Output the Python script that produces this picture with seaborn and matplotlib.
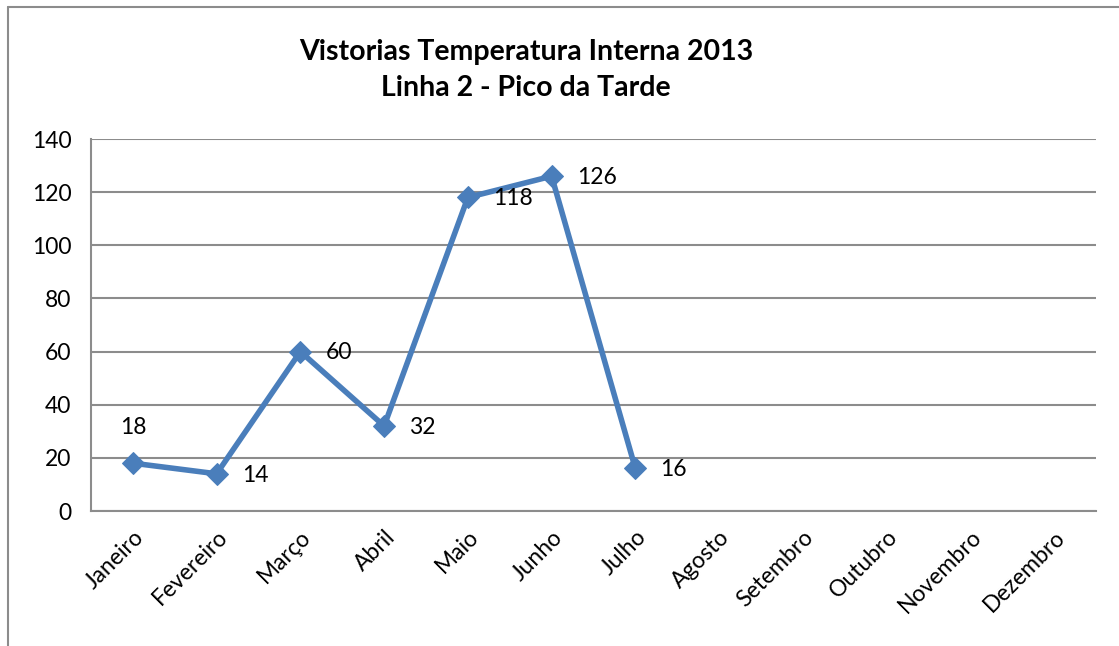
import matplotlib
matplotlib.use("Agg")
import matplotlib.pyplot as plt
import seaborn as sns
import pandas as pd
from matplotlib.lines import Line2D

months = ["Janeiro", "Fevereiro", "Março", "Abril", "Maio", "Junho", "Julho",
          "Agosto", "Setembro", "Outubro", "Novembro", "Dezembro"]
values = [18, 14, 60, 32, 118, 126, 16, None, None, None, None, None]
title = "Vistorias Temperatura Interna 2013\nLinha 2 - Pico da Tarde"
yticks = [0, 20, 40, 60, 80, 100, 120, 140]

sns.set_style("white")
plt.rcParams['font.family'] = ['Lato', 'DejaVu Sans']
plt.rcParams['text.color'] = 'black'

df = pd.DataFrame({"mes": months, "valor": values})
df["pos"] = range(len(months))
known = df.dropna()

W, H = 1119, 646
fig = plt.figure(figsize=(W / 100, H / 100), dpi=100)
ax = fig.add_axes([91 / W, 1 - 511 / H, (1096 - 91) / W, (511 - 139) / H])

blue = "#4A7EBB"
sns.lineplot(data=known, x="pos", y="valor", ax=ax, color=blue, linewidth=4,
             marker="D", markersize=11, markeredgecolor=blue, markerfacecolor=blue)

fs = 16.5
ax.set_xlim(-0.5, 11.5)
ax.set_ylim(0, 140)
ax.set_yticks(yticks)
ax.set_yticklabels([str(v) for v in yticks], fontsize=fs, color="black")
ax.yaxis.grid(True, color="#8C8C8C", linewidth=1.5)
ax.set_axisbelow(True)
ax.set_xlabel("")
ax.set_ylabel("")

# category labels at centres, ticks at boundaries
ax.set_xticks(range(len(months)))
ax.set_xticklabels(months, rotation=45, ha="right", rotation_mode="anchor",
                   fontsize=fs, color="black")
ax.tick_params(axis="x", which="major", length=0, pad=11)
ax.set_xticks([i - 0.5 for i in range(len(months) + 1)], minor=True)
ax.tick_params(axis="x", which="minor", length=7, color="#8C8C8C", width=1.5, direction="out")
ax.tick_params(axis="y", length=8, color="#8C8C8C", width=1.5, direction="out", pad=6)

for s in ["top", "right"]:
    ax.spines[s].set_visible(False)
for s in ["left", "bottom"]:
    ax.spines[s].set_color("#8C8C8C")
    ax.spines[s].set_linewidth(1.5)

# data labels
for _, r in known.iterrows():
    if r["pos"] == 0:
        ax.annotate(f"{int(r['valor'])}", (r["pos"], r["valor"]), xytext=(0, 26),
                    textcoords="offset points", ha="center", va="center",
                    fontsize=fs, color="black")
    else:
        ax.annotate(f"{int(r['valor'])}", (r["pos"], r["valor"]), xytext=(18, -1),
                    textcoords="offset points", ha="left", va="center",
                    fontsize=fs, color="black")

fig.text(526 / W, 1 - 70 / H, title, ha="center", va="center", fontsize=20.5,
         fontweight="bold", linespacing=1.5, color="black")

# chart border (left and top)
fig.add_artist(Line2D([8 / W, 8 / W], [0, 1 - 7 / H], color="#8C8C8C", linewidth=1.5,
                      transform=fig.transFigure))
fig.add_artist(Line2D([8 / W, 1], [1 - 7 / H, 1 - 7 / H], color="#8C8C8C", linewidth=1.5,
                      transform=fig.transFigure))

fig.savefig("out.png", dpi=100)
